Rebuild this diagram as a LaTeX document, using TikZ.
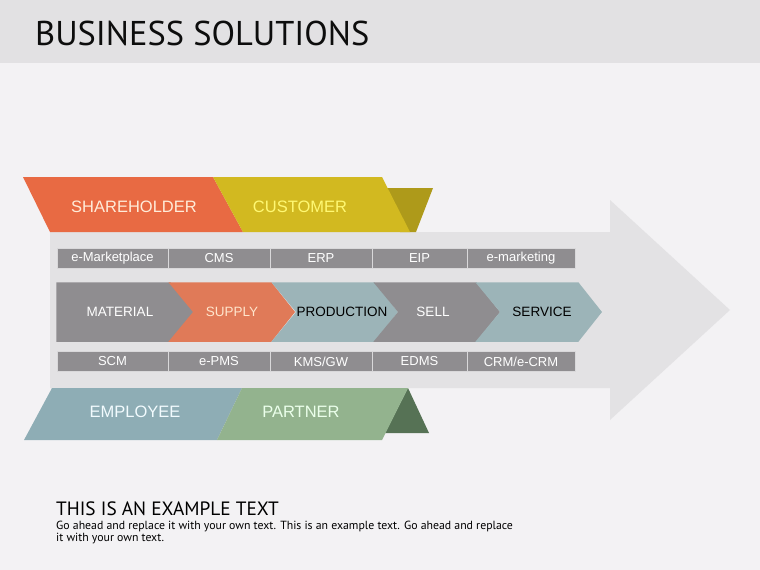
\documentclass[tikz,border=0pt]{standalone}
\usepackage{fontspec}
\setsansfont{Liberation Sans}
\newfontfamily\headfont{PT Sans}
\definecolor{pagebg}{HTML}{F3F2F4}
\definecolor{headbg}{HTML}{E2E1E3}
\definecolor{arrowbg}{HTML}{E3E2E4}
\definecolor{boxgrey}{HTML}{8F8D90}
\definecolor{cellline}{HTML}{D9D8DA}
\definecolor{tealgrey}{HTML}{9CB4B8}
\definecolor{supplyor}{HTML}{E07A58}
\definecolor{shareor}{HTML}{E86A43}
\definecolor{custyel}{HTML}{D2B920}
\definecolor{custflap}{HTML}{AE9A1A}
\definecolor{emplteal}{HTML}{8EADB5}
\definecolor{partgreen}{HTML}{93B38E}
\definecolor{partflap}{HTML}{567255}
\begin{document}
\begin{tikzpicture}
  [x=1pt, y=-1pt,
  every node/.style={inner sep=0pt, font=\sffamily},
  cell/.style={fill=boxgrey, draw=cellline, line width=1pt, text=white,
    minimum height=20pt, font=\sffamily\fontsize{13}{13}\selectfont},
  chev/.style={draw=white, line width=1.5pt},
  chevtext/.style={font=\sffamily\fontsize{13.5}{14}\selectfont},
  bannertext/.style={font=\sffamily\fontsize{16.5}{17}\selectfont},
  ]
  % page and header band
  \fill[pagebg] (0,0) rectangle (760,570);
  \useasboundingbox (0,0) rectangle (760,570);
  \fill[headbg] (0,0) rectangle (760,63);
  \node[anchor=base west, font=\headfont\fontsize{34.4}{35}\selectfont, text=black!95]
    (title) at (35,45) {BUSINESS SOLUTIONS};

  % big arrow
  \fill[arrowbg] (50,232) -- (610,232) -- (610,200) -- (730,310) -- (610,420)
    -- (610,388) -- (50,388) -- cycle;

  % upper banner
  \fill[custflap] (375,188) -- (433,188) -- (416,232) -- (400,232) -- cycle;
  \fill[shareor] (23,177) -- (213,177) -- (243,232) -- (50,232) -- cycle;
  \fill[custyel] (213,177) -- (382,177) -- (410,232) -- (243,232) -- cycle;
  \node[bannertext, text=orange!15] (share) at (134,207) {SHAREHOLDER};
  \node[bannertext, text=yellow!55] (cust) at (300,207) {CUSTOMER};

  % lower banner
  \fill[partflap] (408,388) -- (429,433) -- (385,433) -- cycle;
  \fill[emplteal] (52,388) -- (242,388) -- (217,440) -- (24,440) -- cycle;
  \fill[partgreen] (242,388) -- (408,388) -- (382,440) -- (217,440) -- cycle;
  \node[bannertext, text=cyan!5] (empl) at (135,412) {EMPLOYEE};
  \node[bannertext, text=green!8] (part) at (301,412) {PARTNER};

  % system cells above and below
  \foreach \xa/\xb/\up/\down [count=\i] in
    {57/168/e-Marketplace/SCM, 168/270/CMS/e-PMS, 270/372/ERP/{KMS/GW},
     372/467/EIP/EDMS, 467/575/e-marketing/{CRM/e-CRM}}
  {
    \node[cell, minimum width=\xb pt-\xa pt] (up\i) at ({(\xa+\xb)/2},258) {\up};
    \node[cell, minimum width=\xb pt-\xa pt] (down\i) at ({(\xa+\xb)/2},361.5) {\down};
  }

  % process chevrons
  \fill[chev, boxgrey] (57,283) -- (170,283) -- (194,312) -- (170,341) -- (57,341) -- cycle;
  \node[chevtext, text=white] (material) at (120,312) {MATERIAL};
  \foreach \b/\c/\name/\fc/\tc in
    {170/232/SUPPLY/supplyor/orange!20, 273/342/PRODUCTION/tealgrey/black,
     375/433/SELL/boxgrey/white, 477/542/SERVICE/tealgrey/black}
  {
    \fill[chev, \fc] (\b,283) -- (\b+101,283) -- (\b+124,312) -- (\b+101,341)
      -- (\b,341) -- (\b+24,312) -- cycle;
    \node[chevtext, text=\tc] (\name) at (\c,312) {\name};
  }

  % example text
  \node[anchor=base west, font=\headfont\fontsize{19.3}{20}\selectfont] (head)
    at (56,515) {THIS IS AN EXAMPLE TEXT};
  \node[anchor=north west, align=left, font=\headfont\fontsize{11.8}{12.5}\selectfont]
    (body) at (56,520.5) {Go ahead and replace it with your own text. This is an example text. Go ahead and replace\\it with your own text.};
\end{tikzpicture}
\end{document}
